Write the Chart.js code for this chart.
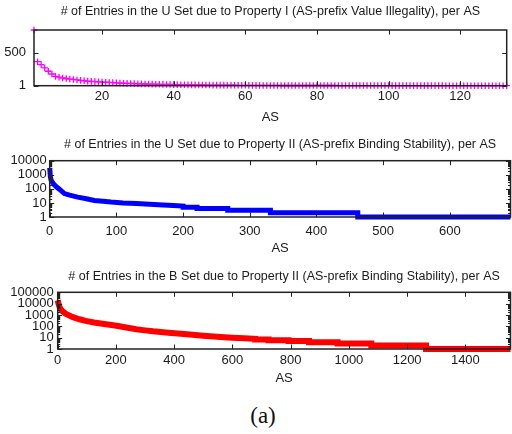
<!DOCTYPE html>
<html>
<head>
<meta charset="utf-8">
<script src="https://cdn.jsdelivr.net/npm/chart.js@4.4.1/dist/chart.umd.min.js"></script>
<style>
  body { margin: 0; background: #fff; }
  #wrap { position: relative; width: 512px; height: 434px; overflow: hidden; }
  canvas { position: absolute; left: 0; }
  #cap { position: absolute; left: 0; width: 526px; top: 404px; text-align: center;
         font-family: "Liberation Serif", serif; font-size: 23px; line-height: 23px; color: #111; }
</style>
</head>
<body>
<div id="wrap">
  <canvas id="c1" width="512" height="126" style="top:0px"></canvas>
  <canvas id="c2" width="512" height="130" style="top:126px"></canvas>
  <canvas id="c3" width="512" height="134" style="top:256px"></canvas>
  <div id="cap">(a)</div>
</div>
<script>
// chart 1: U set, property I (x = 1..133)
const u1Counts = [
  845, 365, 320, 270, 220, 178, 142, 130, 118, 110,
  102, 96, 88, 82, 76, 71, 66, 62, 59, 56,
  53, 50, 47, 44, 41, 38, 36, 34, 32, 30,
  28, 27, 26, 25, 24, 22, 21, 20, 19, 18,
  17, 16, 15, 14, 14, 13, 12, 12, 11, 11,
  10, 10, 9, 9, 8, 8, 8, 7, 7, 7,
  6, 6, 6, 6, 5, 5, 5, 5, 5, 4,
  4, 4, 4, 4, 4, 4, 4, 4, 4, 4, 4, 4, 4, 4, 4,
  3, 3, 3, 3, 3, 3, 3, 3, 3, 3, 3, 3, 3, 3, 3,
  2, 2, 2, 2, 2, 2, 2, 2, 2, 2, 2, 2, 2, 2, 2,
  1, 1, 1, 1, 1, 1, 1, 1, 1, 1, 1, 1, 1, 1, 1, 1, 1, 1
];
const u1XTicks = [20, 40, 60, 80, 100, 120];
const u1YTicks = [1, 500];

// chart 2: U set, property II (steps written as two points at the same AS)
const u2AS = [0, 1, 2, 4, 7, 10, 15, 22, 30, 42, 55, 67, 80, 92, 110, 130, 150, 170, 185, 200,
  200, 221, 221, 267, 267, 331, 331, 462, 462, 691];
const u2Count = [3100, 700, 420, 300, 190, 140, 90, 46, 36, 26, 20, 15, 13, 11.5, 10, 9, 8, 7, 6.5, 6,
  5, 5, 4, 4, 3, 3, 2, 2, 1, 1];
const u2XTicks = [0, 100, 200, 300, 400, 500, 600];
const u2YTicks = [1, 10, 100, 1000, 10000];

// chart 3: B set, property II
const b2AS = [0, 2, 5, 9, 15, 27, 50, 75, 96, 125, 154, 185, 212, 240, 270, 300, 328, 380, 444, 500,
  560, 600, 640, 678, 678, 724, 724, 793, 793, 863, 863, 961, 961, 1077, 1077, 1265, 1265, 1555];
const b2Count = [20000, 12000, 6500, 3600, 2300, 1300, 670, 420, 300, 220, 170, 130, 100, 75, 55, 44, 36, 27, 20, 15,
  11.5, 10, 9, 8, 7, 7, 6, 6, 5, 5, 4, 4, 3, 3, 2, 2, 1, 1];
const b2XTicks = [0, 200, 400, 600, 800, 1000, 1200, 1400];
const b2YTicks = [1, 10, 100, 1000, 10000, 100000];

const FONT = "'Liberation Sans', Arial, sans-serif";
const INK = "#1a1a1a";

// gnuplot style box with inward ticks on all four sides
const framePlugin = {
  id: "frame",
  afterDatasetsDraw(chart) {
    const { ctx, chartArea: a, scales } = chart;
    const x = scales.x, y = scales.y;
    ctx.save();
    ctx.strokeStyle = "#222";
    ctx.lineWidth = 1;
    ctx.beginPath();
    x.ticks.forEach((t) => {
      const px = Math.round(x.getPixelForValue(t.value)) + 0.5;
      ctx.moveTo(px, a.bottom); ctx.lineTo(px, a.bottom - 4.5);
      ctx.moveTo(px, a.top); ctx.lineTo(px, a.top + 4.5);
    });
    y.ticks.forEach((t) => {
      const py = Math.round(y.getPixelForValue(t.value)) + 0.5;
      ctx.moveTo(a.left, py); ctx.lineTo(a.left + 4.5, py);
      ctx.moveTo(a.right, py); ctx.lineTo(a.right - 4.5, py);
    });
    if (y.type === "logarithmic") {
      for (let d = 1; d < y.max; d *= 10) {
        for (let m = 2; m <= 9; m++) {
          const v = d * m;
          if (v >= y.max) break;
          const py = Math.round(y.getPixelForValue(v)) + 0.5;
          ctx.moveTo(a.left, py); ctx.lineTo(a.left + 2.5, py);
          ctx.moveTo(a.right, py); ctx.lineTo(a.right - 2.5, py);
        }
      }
    }
    ctx.stroke();
    ctx.lineWidth = 1.5;
    ctx.strokeRect(a.left, a.top, a.right - a.left, a.bottom - a.top);
    ctx.restore();
  }
};

function makeChart(id, o) {
  return new Chart(document.getElementById(id), {
    type: "scatter",
    data: { datasets: [o.dataset] },
    options: {
      responsive: false,
      animation: false,
      events: [],
      layout: { padding: { left: 0, right: 1.5, top: 0, bottom: 0 } },
      plugins: {
        legend: { display: false },
        tooltip: { enabled: false },
        title: {
          display: true,
          fullSize: false,
          text: o.title,
          color: INK,
          font: { family: FONT, size: 12.5, weight: "normal" },
          padding: o.titlePad
        }
      },
      scales: {
        x: {
          type: "linear",
          min: o.xMin, max: o.xMax,
          grid: { display: false, drawTicks: false },
          border: { display: false },
          afterBuildTicks: (s) => { s.ticks = o.xTicks.map((v) => ({ value: v })); },
          afterFit: (s) => { s.height = o.xHeight; },
          ticks: { color: INK, font: { family: FONT, size: 13 }, padding: o.xTickPad, maxRotation: 0,
                   autoSkip: false, callback: (v) => String(v) },
          title: { display: true, text: "AS", color: INK, font: { family: FONT, size: 13 }, padding: { top: 0, bottom: o.asPad } }
        },
        y: {
          type: o.yType,
          min: o.yMin, max: o.yMax,
          grid: { display: false, drawTicks: false },
          border: { display: false },
          afterBuildTicks: (s) => { s.ticks = o.yTicks.map((v) => ({ value: v })); },
          afterFit: (s) => { s.width = o.yWidth; },
          ticks: { color: INK, font: { family: FONT, size: 13 }, padding: o.yTickPad, autoSkip: false,
                   callback: (v) => String(v) }
        }
      }
    },
    plugins: [framePlugin]
  });
}

makeChart("c1", {
  title: "# of Entries in the U Set due to Property I (AS-prefix Value Illegality), per AS",
  titlePad: { top: 4.5, bottom: 10.5 },
  dataset: {
    data: u1Counts.map((c, i) => ({ x: i + 1, y: c })),
    pointStyle: "cross",
    pointRadius: 3.3,
    pointBorderWidth: 1.3,
    borderColor: "#ff00ff",
    backgroundColor: "#ff00ff",
    showLine: false,
    clip: false
  },
  xMin: 1, xMax: 133, xTicks: u1XTicks, xHeight: 40.3, xTickPad: 3, asPad: 0.9,
  yType: "linear", yMin: 1, yMax: 845, yTicks: u1YTicks, yWidth: 34, yTickPad: 8
});

makeChart("c2", {
  title: "# of Entries in the U Set due to Property II (AS-prefix Binding Stability), per AS",
  titlePad: { top: 11, bottom: 8.7 },
  dataset: {
    data: u2AS.map((a, i) => ({ x: a, y: u2Count[i] })),
    showLine: true,
    borderColor: "#0000ff",
    borderWidth: 5,
    pointRadius: 0,
    tension: 0,
    clip: false
  },
  xMin: 0, xMax: 691, xTicks: u2XTicks, xHeight: 39, xTickPad: 7, asPad: 0,
  yType: "logarithmic", yMin: 1, yMax: 10000, yTicks: u2YTicks, yWidth: 49.7, yTickPad: 3
});

makeChart("c3", {
  title: "# of Entries in the B Set due to Property II (AS-prefix Binding Stability), per AS",
  titlePad: { top: 13, bottom: 8.3 },
  dataset: {
    data: b2AS.map((a, i) => ({ x: a, y: b2Count[i] })),
    showLine: true,
    borderColor: "#ff0000",
    borderWidth: 6,
    pointRadius: 0,
    tension: 0,
    clip: false
  },
  xMin: 0, xMax: 1555, xTicks: b2XTicks, xHeight: 41, xTickPad: 4, asPad: 3.9,
  yType: "logarithmic", yMin: 1, yMax: 100000, yTicks: b2YTicks, yWidth: 57.7, yTickPad: 4
});
</script>
</body>
</html>
